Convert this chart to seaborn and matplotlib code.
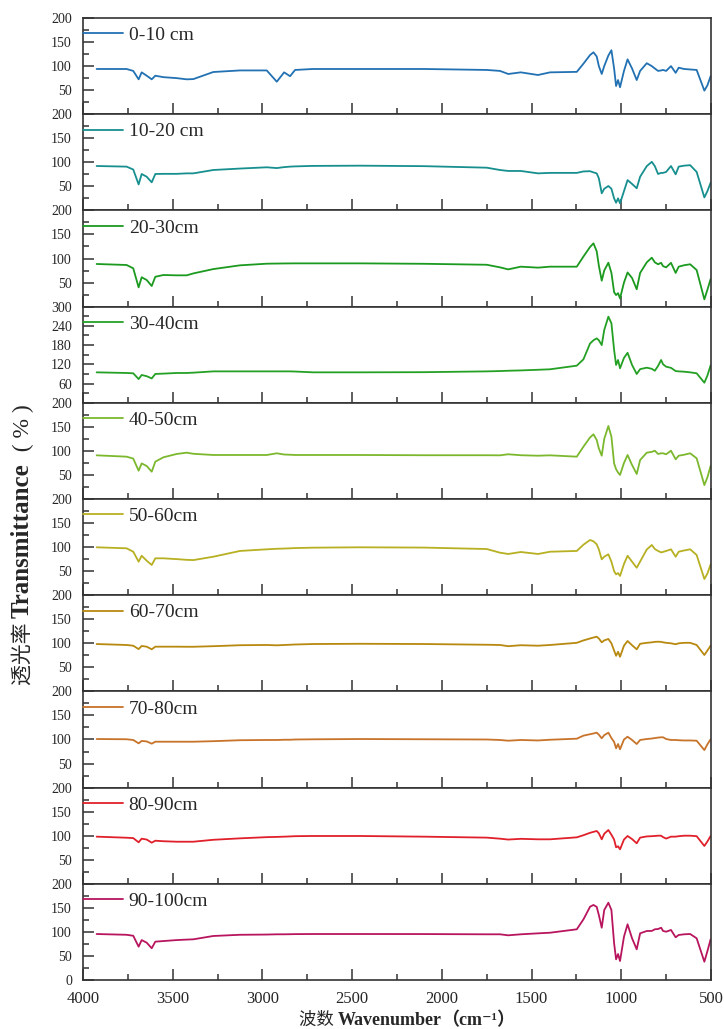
import matplotlib
matplotlib.use("Agg")
import matplotlib.pyplot as plt
import numpy as np
import pandas as pd
import seaborn as sns
from matplotlib.ticker import FixedLocator, MultipleLocator
from matplotlib.transforms import IdentityTransform

# ---------------- data ----------------
wavenumber = [3924, 3757, 3720, 3690, 3673, 3645, 3617, 3597, 3552, 3478, 3422, 3385,
              3274, 3125, 2976, 2920, 2879, 2846, 2818, 2718, 2456, 2100, 1750, 1676,
              1630, 1560, 1464, 1397, 1248, 1211, 1174, 1155, 1137, 1125, 1109, 1095,
              1072, 1055, 1040, 1029, 1018, 1007, 985, 965, 940, 914, 895, 858, 830,
              813, 795, 778, 767, 750, 723, 697, 680, 650, 616, 580, 537, 520, 502]

t_0_10 = [94, 94, 90, 72.5, 87, 80, 72.5, 80, 77, 75, 72.5, 73,
          87.7, 91, 91, 67.6, 87, 79, 92, 94, 94, 94, 92, 90,
          83.6, 87, 81.5, 87, 88, 105, 123, 128.7, 120, 100, 83.6, 100,
          122, 133, 95, 58.6, 71, 56, 90, 114, 95, 71, 90, 106, 100,
          95, 90, 91, 92, 90, 100, 86, 96.7, 94, 93, 92, 49, 60, 79]

t_10_20 = [92.3, 91, 85, 54, 75.7, 70, 58.4, 75.7, 76, 76, 77, 77,
           84, 87, 89.6, 88, 90, 91, 91.5, 92.5, 93, 92, 88.8, 84,
           82, 82, 77, 78, 78, 81, 81.5, 79, 77, 66.7, 35.5, 45,
           50.7, 45, 25, 16, 25, 14.8, 40, 63, 55, 46, 70, 92, 101,
           92, 75.7, 78, 78, 80, 92.3, 75, 91, 93, 94, 80, 27, 40, 57.6]

t_20_30 = [88.6, 86.5, 79.6, 40, 61, 55.3, 42.8, 62, 65.7, 65, 65, 69,
           78, 85.8, 89.2, 89.5, 89.7, 89.8, 89.9, 89.9, 89.9, 89, 87, 81.6,
           77.4, 83, 81, 83, 83, 104, 124, 131.5, 115, 85, 53.9, 75,
           91.3, 70, 30, 24, 28, 17, 50, 71, 59.5, 36, 70, 92, 101.7,
           92, 88, 91, 84, 81.6, 91, 70, 83, 86, 88, 76, 15, 35, 57.4]

t_30_40 = [95, 93, 92, 74, 86.7, 83, 76, 90, 91, 93, 93, 94,
           98, 98, 98, 98, 98, 98, 97.5, 95, 95, 95.5, 98, 99,
           100, 101, 103, 104.5, 115.8, 135.6, 185, 195, 201, 195, 180, 227,
           268.6, 248, 164.7, 118, 133.5, 107.6, 140, 156, 118, 89.8, 105, 109.5, 106,
           100, 115, 133.5, 120, 112.6, 109, 99, 98, 97, 95, 92, 62.7, 85, 117]

t_40_50 = [90.8, 88, 84, 58.8, 74, 68.6, 56.8, 77.6, 86.7, 93.6, 96.3, 94,
           91.5, 91.5, 91.5, 95, 92.5, 92, 91.5, 91.5, 91.5, 91, 91, 90.8,
           93, 91, 90, 90.8, 88, 108.8, 128, 134.5, 122.7, 105, 90, 125,
           151.8, 129.5, 74, 62, 55, 50, 75, 91.5, 70.7, 52, 81, 96.3, 98,
           100.4, 93.6, 95, 95, 93, 100.4, 82.5, 90, 92, 95, 84.6, 29, 45, 69]

t_50_60 = [99.6, 97.5, 90.4, 69.7, 82, 71.7, 62.8, 76.7, 76.7, 75, 73.5, 73,
           80, 92, 95.4, 96.5, 97, 97.5, 98, 98.8, 99.6, 99, 96, 88.4,
           85.7, 89.8, 85.7, 90.4, 92, 105, 114.8, 112, 105.8, 95, 74.6, 80,
           85, 69.7, 50, 43.4, 46, 40, 65, 82, 69.7, 57, 70, 95, 104.4,
           96, 92, 89, 90, 92, 95.4, 80, 90.4, 93, 95.4, 83.6, 33.7, 45, 64]

t_60_70 = [98.5, 96.5, 95, 88, 94.4, 93, 87.5, 93, 93, 93, 92.8, 92.8,
           94, 96, 96.5, 95.8, 96.5, 97, 97.5, 98.5, 99, 98.5, 97, 96.5,
           94, 96, 95, 96.5, 101, 106, 110, 112, 113.8, 110, 102, 106,
           109, 100, 85, 74, 82.5, 72, 95, 104.8, 96, 87.5, 99, 101, 102,
           103, 103.3, 103, 102, 101, 100, 98, 100, 101, 101, 96.5, 75.7, 85, 95]

t_70_80 = [101, 100.5, 99, 92, 97, 96, 91.3, 95.4, 95.4, 95.4, 95.4, 95.4,
           96.5, 98.5, 99, 99, 99.5, 99.5, 100, 100.4, 101, 100.5, 100, 99,
           97.5, 99, 98, 99.5, 101.7, 108, 111, 112.5, 114.2, 110, 102.5, 109,
           114.2, 103, 95, 81.7, 90.6, 79.6, 100, 105.8, 99, 90.6, 99, 101, 102,
           103, 104, 104.6, 104.6, 101, 99, 99, 98.5, 98, 98, 97.5, 78, 90, 100.4]

t_80_90 = [98, 95.8, 95, 86.3, 93.8, 92, 85.5, 89.6, 88.5, 87.5, 87.5, 87.5,
           91.5, 94.5, 97, 97.5, 98, 98.5, 99, 99.4, 99.4, 98, 96, 93.8,
           92, 93.5, 92.5, 92.5, 96.6, 101, 106, 108, 109.8, 105, 92.5, 104,
           111.8, 102, 92, 75.9, 78, 71.7, 92, 99.4, 93, 84.2, 96, 98.5, 99,
           99.5, 100, 100, 97, 94, 98, 98, 99, 100, 100, 99, 78.6, 88, 99.4]

t_90_100 = [95.6, 94, 92, 69.3, 83, 77.6, 66, 79.7, 81, 83, 84, 84.6,
            91.5, 94, 94.5, 95, 95, 95.2, 95.4, 95.6, 95.6, 95.5, 95, 95,
            92.9, 95, 97, 98.3, 105.4, 126, 152.4, 156, 152, 135, 108.7, 145.5,
            160.7, 145.5, 76.3, 43, 54, 39.5, 90, 115.8, 86.7, 63.8, 97, 101.9, 102,
            105.4, 106, 108.7, 102, 100.4, 104, 88.8, 93.6, 95, 95.6, 86.7, 38, 60, 84.6]

depth_labels = ["0-10 cm", "10-20 cm", "20-30cm", "30-40cm", "40-50cm",
                "50-60cm", "60-70cm", "70-80cm", "80-90cm", "90-100cm"]
series = [t_0_10, t_10_20, t_20_30, t_30_40, t_40_50,
          t_50_60, t_60_70, t_70_80, t_80_90, t_90_100]
colors = ["#2271b3", "#178f8f", "#1b9a1f", "#24a024", "#7cb82e",
          "#b7b022", "#b8890f", "#c8732a", "#e0202a", "#b8155e"]

x_ticks = [4000, 3500, 3000, 2500, 2000, 1500, 1000, 500]
y_ticks_std = [50, 100, 150, 200]
y_ticks_last = [0, 50, 100, 150, 200]
y_ticks_wide = [60, 120, 180, 240, 300]

# ---------------- style ----------------
sns.set_theme(style="ticks")
plt.rcParams["font.family"] = ["Liberation Serif", "DejaVu Serif", "Noto Sans CJK SC"]
plt.rcParams["axes.edgecolor"] = "#333333"
plt.rcParams["axes.linewidth"] = 1.2

W, H = 724, 1029
fig, axes = plt.subplots(10, 1, figsize=(W / 100, H / 100), dpi=100, sharex=True)
fig.subplots_adjust(left=83 / W, right=711 / W, top=1 - 18 / H, bottom=1 - 980 / H, hspace=0)

for i, ax in enumerate(axes):
    df = pd.DataFrame({"wavenumber": wavenumber, "T": series[i]})
    sns.lineplot(data=df, x="wavenumber", y="T", ax=ax, color=colors[i],
                 linewidth=1.3, label=depth_labels[i])
    ax.set_xlim(4000, 500)
    ax.xaxis.set_major_locator(FixedLocator(x_ticks))
    ax.xaxis.set_minor_locator(MultipleLocator(250))
    if i == 3:
        ax.set_ylim(0, 300)
        ax.yaxis.set_major_locator(FixedLocator(y_ticks_wide))
        ax.yaxis.set_minor_locator(MultipleLocator(30))
    else:
        ax.set_ylim(0, 200)
        ax.yaxis.set_major_locator(FixedLocator(y_ticks_last if i == 9 else y_ticks_std))
        ax.yaxis.set_minor_locator(MultipleLocator(25))
    ax.tick_params(axis="both", which="both", direction="in", top=False, right=False,
                   color="#333333", width=1.1)
    ax.tick_params(axis="both", which="major", length=8)
    ax.tick_params(axis="both", which="minor", length=4)
    ax.tick_params(axis="y", labelsize=10, pad=8)
    ax.tick_params(axis="x", labelsize=12, pad=8)
    ax.set_xlabel("")
    ax.set_ylabel("")
    for s in ax.spines.values():
        s.set_visible(True)
        s.set_color("#333333")
        s.set_linewidth(1.2)
    ax.legend(loc="upper left", bbox_to_anchor=(0, 1 - 8.5 / 96.2), borderaxespad=0,
              borderpad=0, frameon=False, handlelength=2.05, handletextpad=0.3,
              fontsize=14)

# ---------------- axis titles (mixed weights, chained pieces) ----------------
renderer = fig.canvas.get_renderer()
pix = IdentityTransform()

def chain(pieces, x, y, rotation, center):
    texts = []
    for s, kw in pieces:
        t = fig.text(0, 0, s, transform=pix, rotation=rotation, rotation_mode="anchor",
                     ha="left", va="baseline", **kw)
        texts.append(t)
    lengths = []
    for t in texts:
        bb = t.get_window_extent(renderer)
        lengths.append(bb.height if rotation == 90 else bb.width)
    total = sum(lengths)
    pos = center - total / 2
    for t, L in zip(texts, lengths):
        if rotation == 90:
            t.set_position((x, pos))
        else:
            t.set_position((pos, y))
        pos += L

cjk = ["Noto Sans CJK SC"]
lat = ["Liberation Serif", "DejaVu Serif", "Noto Sans CJK SC"]

chain([("透光率 ", dict(family=cjk, fontsize=15)),
       ("Transmittance", dict(family=lat, fontsize=18, fontweight="bold")),
       ("  ( % )", dict(family=["Liberation Serif"], fontsize=17))],
      x=29, y=None, rotation=90, center=H - 545)

chain([("波数 ", dict(family=cjk, fontsize=12.5)),
       ("Wavenumber", dict(family=lat, fontsize=13, fontweight="bold")),
       ("（cm⁻¹）", dict(family=lat, fontsize=13, fontweight="bold"))],
      x=None, y=4, rotation=0, center=407)

fig.savefig("out.png", dpi=100)
